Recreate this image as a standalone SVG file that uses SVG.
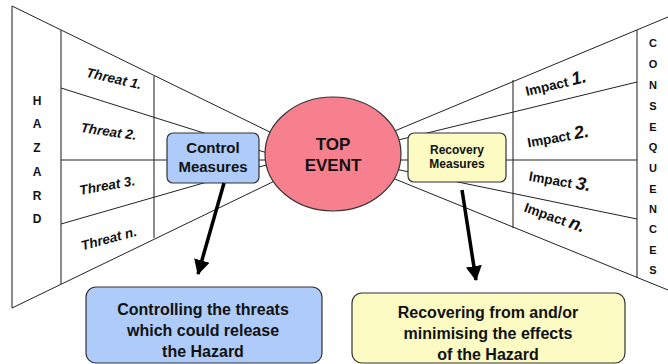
<svg xmlns="http://www.w3.org/2000/svg" width="668" height="364" viewBox="0 0 668 364">
<defs>
<style>
.ln{stroke:#222;stroke-width:1;fill:none}
.vl{stroke:#666;stroke-width:1.5;fill:none}
.t{font-family:"Liberation Sans",Arial,sans-serif;font-weight:bold;fill:#111}
.lt{font-size:12px;text-anchor:middle}
.cq{font-size:11px;text-anchor:middle}
.th{font-size:13.5px;font-style:italic;text-anchor:middle}
.im{font-size:13.5px;text-anchor:middle}
.num{font-size:18px;font-style:italic}
.box{stroke:#333;stroke-width:1.2}
.arr{stroke:#000;stroke-width:3.5;fill:none}
</style>
<marker id="ah" markerUnits="userSpaceOnUse" markerWidth="18" markerHeight="18" viewBox="0 0 18 18" refX="14" refY="9" orient="auto">
<path d="M0,1 L15,9 L0,17 Z" fill="#000"/>
</marker>
</defs>
<rect width="668" height="364" fill="#fff"/>

<g id="bowtie-frame">
<line class="vl" x1="12" y1="6" x2="12" y2="308"/>
<line class="vl" x1="61" y1="30" x2="61" y2="284"/>
<line class="vl" x1="154" y1="76" x2="154" y2="238"/>
<line class="ln" x1="12" y1="6" x2="280" y2="137"/>
<line class="ln" x1="12" y1="308" x2="285" y2="176"/>
<line class="ln" x1="61" y1="88" x2="280" y2="157"/>
<line class="ln" x1="61" y1="160" x2="280" y2="160"/>
<line class="ln" x1="61" y1="224" x2="280" y2="161"/>
<line class="vl" x1="637" y1="30" x2="637" y2="278"/>
<line class="vl" x1="513" y1="80" x2="513" y2="228"/>
<line class="ln" x1="385" y1="135" x2="668" y2="17"/>
<line class="ln" x1="385" y1="175" x2="668" y2="290"/>
<line class="ln" x1="637" y1="82" x2="390" y2="142"/>
<line class="ln" x1="637" y1="160" x2="390" y2="160"/>
<line class="ln" x1="637" y1="219" x2="390" y2="168"/>
</g>

<g id="hazard">
<text class="t lt" x="37" y="105">H</text>
<text class="t lt" x="37" y="128">A</text>
<text class="t lt" x="37" y="152">Z</text>
<text class="t lt" x="37" y="176">A</text>
<text class="t lt" x="37" y="200">R</text>
<text class="t lt" x="37" y="223">D</text>
</g>

<g id="threats">
<text class="t th" transform="translate(113,83) rotate(13)">Threat 1.</text>
<text class="t th" transform="translate(108,136) rotate(8)">Threat 2.</text>
<text class="t th" transform="translate(108,190) rotate(-10)">Threat 3.</text>
<text class="t th" transform="translate(110,243) rotate(-15)">Threat n.</text>
</g>

<g id="control-measures">
<rect class="box" x="167" y="133" width="92" height="50" rx="6" fill="#aecbfa"/>
<text class="t" x="213" y="153" font-size="15" text-anchor="middle">Control</text>
<text class="t" x="213" y="172" font-size="15" text-anchor="middle">Measures</text>
</g>

<g id="top-event">
<ellipse class="box" cx="333" cy="154" rx="68" ry="57" fill="#f7808f"/>
<text class="t" x="333" y="150" font-size="17" text-anchor="middle">TOP</text>
<text class="t" x="333" y="171" font-size="17" text-anchor="middle">EVENT</text>
</g>

<g id="recovery-measures">
<rect class="box" x="408" y="133" width="98" height="49" rx="6" fill="#fbfbc3"/>
<text class="t" x="457" y="154" font-size="12" text-anchor="middle">Recovery</text>
<text class="t" x="457" y="168" font-size="12" text-anchor="middle">Measures</text>
</g>

<g id="impacts">
<text class="t im" transform="translate(557,89) rotate(-13)">Impact <tspan class="num">1.</tspan></text>
<text class="t im" transform="translate(559,142) rotate(-10)">Impact <tspan class="num">2.</tspan></text>
<text class="t im" transform="translate(559,186) rotate(10)">Impact <tspan class="num">3.</tspan></text>
<text class="t im" transform="translate(553,222) rotate(20)">Impact <tspan class="num">n.</tspan></text>
</g>

<g id="consequences">
<text class="t cq" x="653" y="47">C</text>
<text class="t cq" x="653" y="68">O</text>
<text class="t cq" x="653" y="89">N</text>
<text class="t cq" x="653" y="110">S</text>
<text class="t cq" x="653" y="131">E</text>
<text class="t cq" x="653" y="151">Q</text>
<text class="t cq" x="653" y="172">U</text>
<text class="t cq" x="653" y="193">E</text>
<text class="t cq" x="653" y="213">N</text>
<text class="t cq" x="653" y="233">C</text>
<text class="t cq" x="653" y="254">E</text>
<text class="t cq" x="653" y="274">S</text>
</g>

<g id="connectors">
<line class="arr" x1="224" y1="183" x2="198" y2="274" marker-end="url(#ah)"/>
<line class="arr" x1="462" y1="190" x2="476" y2="280" marker-end="url(#ah)"/>
</g>

<g id="controlling-threats">
<rect class="box" x="86" y="287" width="236" height="76" rx="10" fill="#aecbfa"/>
<text class="t" x="203" y="315" font-size="16" text-anchor="middle">Controlling the threats</text>
<text class="t" x="203" y="336" font-size="16" text-anchor="middle">which could release</text>
<text class="t" x="203" y="357" font-size="16" text-anchor="middle">the Hazard</text>
</g>

<g id="recovering">
<rect class="box" x="352" y="293" width="273" height="70" rx="10" fill="#fbfbc3"/>
<text class="t" x="488" y="318" font-size="16" text-anchor="middle">Recovering from and/or</text>
<text class="t" x="488" y="339" font-size="16" text-anchor="middle">minimising the effects</text>
<text class="t" x="488" y="360" font-size="16" text-anchor="middle">of the Hazard</text>
</g>
</svg>
